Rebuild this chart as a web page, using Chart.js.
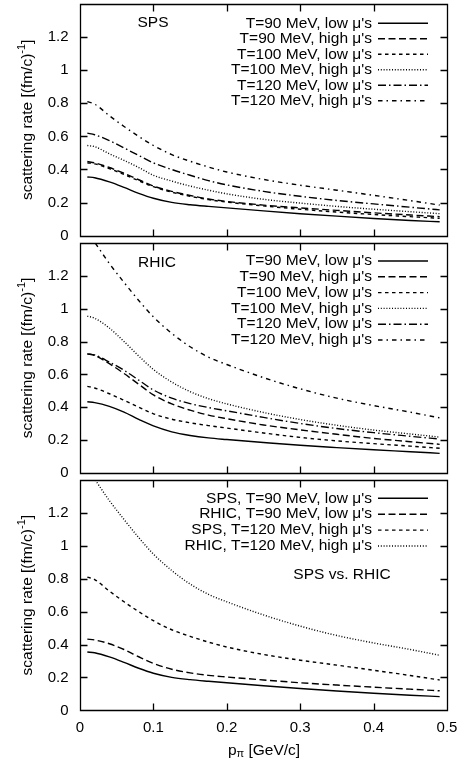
<!DOCTYPE html>
<html>
<head>
<meta charset="utf-8">
<script src="https://cdn.jsdelivr.net/npm/chart.js@4.4.1/dist/chart.umd.min.js"></script>
<style>
  html, body { margin: 0; padding: 0; background: #fff; }
  #wrap { position: relative; width: 466px; height: 764px; }
  canvas { position: absolute; left: 0; }
</style>
</head>
<body>
<div id="wrap">
  <canvas id="c1" width="466" height="240" style="top:0px"></canvas>
  <canvas id="c2" width="466" height="238" style="top:240px"></canvas>
  <canvas id="c3" width="466" height="286" style="top:478px"></canvas>
</div>
<script>
// pion momentum (GeV/c)
const px = [0.01, 0.02, 0.04, 0.06, 0.08, 0.1, 0.125, 0.15, 0.175, 0.2, 0.25, 0.3, 0.35, 0.4, 0.45, 0.49];

// SPS scattering rates
const spsT90Low   = [0.355, 0.350, 0.325, 0.292, 0.256, 0.226, 0.201, 0.187, 0.177, 0.168, 0.150, 0.133, 0.118, 0.104, 0.092, 0.084];
const spsT90High  = [0.448, 0.440, 0.412, 0.377, 0.338, 0.300, 0.268, 0.243, 0.222, 0.207, 0.185, 0.168, 0.153, 0.138, 0.125, 0.115];
const spsT100Low  = [0.440, 0.434, 0.405, 0.370, 0.332, 0.296, 0.263, 0.238, 0.218, 0.203, 0.180, 0.160, 0.143, 0.128, 0.115, 0.105];
const spsT100High = [0.545, 0.538, 0.495, 0.455, 0.412, 0.365, 0.330, 0.300, 0.275, 0.253, 0.220, 0.197, 0.177, 0.160, 0.145, 0.133];
const spsT120Low  = [0.620, 0.610, 0.575, 0.530, 0.485, 0.440, 0.400, 0.365, 0.333, 0.307, 0.268, 0.238, 0.213, 0.192, 0.172, 0.156];
const spsT120High = [0.810, 0.795, 0.725, 0.660, 0.600, 0.545, 0.490, 0.450, 0.415, 0.385, 0.340, 0.305, 0.275, 0.244, 0.212, 0.185];

// RHIC scattering rates
const rhicT90Low   = [0.433, 0.428, 0.405, 0.370, 0.326, 0.286, 0.250, 0.228, 0.213, 0.203, 0.185, 0.168, 0.154, 0.141, 0.129, 0.119];
const rhicT90High  = [0.725, 0.715, 0.665, 0.605, 0.540, 0.475, 0.420, 0.382, 0.352, 0.330, 0.292, 0.262, 0.235, 0.210, 0.190, 0.174];
const rhicT100Low  = [0.527, 0.517, 0.482, 0.442, 0.400, 0.360, 0.327, 0.305, 0.288, 0.273, 0.243, 0.216, 0.195, 0.178, 0.163, 0.150];
const rhicT100High = [0.955, 0.942, 0.882, 0.800, 0.712, 0.630, 0.553, 0.495, 0.452, 0.420, 0.368, 0.325, 0.290, 0.261, 0.237, 0.218];
const rhicT120Low  = [0.725, 0.718, 0.675, 0.625, 0.565, 0.505, 0.455, 0.422, 0.398, 0.378, 0.338, 0.301, 0.270, 0.245, 0.223, 0.206];
const rhicT120High = [1.470, 1.405, 1.275, 1.160, 1.050, 0.950, 0.850, 0.768, 0.705, 0.660, 0.580, 0.512, 0.455, 0.410, 0.370, 0.335];

const tempLabels = ["T=90 MeV, low \u03bc's", "T=90 MeV, high \u03bc's", "T=100 MeV, low \u03bc's",
                    "T=100 MeV, high \u03bc's", "T=120 MeV, low \u03bc's", "T=120 MeV, high \u03bc's"];
const cmpLabels = ["SPS, T=90 MeV, low \u03bc's", "RHIC, T=90 MeV, low \u03bc's",
                   "SPS, T=120 MeV, high \u03bc's", "RHIC, T=120 MeV, high \u03bc's"];
const xTicks = [0, 0.1, 0.2, 0.3, 0.4, 0.5];
const yTicks = [0, 0.2, 0.4, 0.6, 0.8, 1.0, 1.2];

const FAMILY = '"Liberation Sans", Arial, sans-serif';
const F_TEXT = "15.5px " + FAMILY;
const F_TICK = "15px " + FAMILY;
const F_SMALL = "11px " + FAMILY;
Chart.defaults.font.family = FAMILY;
Chart.defaults.color = "#000";

// gnuplot-like dash types
const DASH = [[], [7, 3.5], [3.5, 3.5], [1, 1.8], [8, 3, 1.5, 3], [4.5, 4, 1.5, 4]];

function mkSet(label, arr, dashIdx) {
    return {
        label: label,
        data: px.map((x, i) => ({ x: x, y: arr[i] })),
        borderColor: "#000",
        borderWidth: 1.4,
        borderDash: DASH[dashIdx],
        pointRadius: 0,
        fill: false,
        cubicInterpolationMode: "monotone"
    };
}

function fmt(v) { return String(Math.round(v * 10) / 10); }

function drawYTitle(ctx, cx, cy) {
    ctx.save();
    ctx.translate(cx, cy);
    ctx.rotate(-Math.PI / 2);
    ctx.fillStyle = "#000";
    ctx.textBaseline = "middle";
    ctx.textAlign = "left";
    const main = "scattering rate [(fm/c)", sup = "-1", end = "]";
    ctx.font = F_TEXT;
    const w1 = ctx.measureText(main).width, w3 = ctx.measureText(end).width;
    ctx.font = F_SMALL;
    const w2 = ctx.measureText(sup).width;
    let x = -(w1 + w2 + w3) / 2;
    ctx.font = F_TEXT;
    ctx.fillText(main, x, 0); x += w1;
    ctx.font = F_SMALL;
    ctx.fillText(sup, x, -6); x += w2;
    ctx.font = F_TEXT;
    ctx.fillText(end, x, 0);
    ctx.restore();
}

const panelPlugin = {
    id: "panel",
    afterDraw(chart, args, opts) {
        const ctx = chart.ctx;
        const a = chart.chartArea;
        const xs = chart.scales.x, ys = chart.scales.y;
        const L = Math.round(a.left) + 0.5, R = Math.round(a.right) + 0.5;
        const T = Math.round(a.top) + 0.5, B = Math.round(a.bottom) + 0.5;
        ctx.save();
        ctx.strokeStyle = "#000";
        ctx.lineWidth = 1.3;
        ctx.setLineDash([]);
        // frame and inward ticks on all sides
        ctx.beginPath();
        ctx.moveTo(L, T); ctx.lineTo(R, T); ctx.lineTo(R, B); ctx.lineTo(L, B); ctx.closePath();
        xTicks.forEach(v => {
            const p = Math.round(xs.getPixelForValue(v)) + 0.5;
            ctx.moveTo(p, B); ctx.lineTo(p, B - 7);
            ctx.moveTo(p, T); ctx.lineTo(p, T + 7);
        });
        yTicks.forEach(v => {
            const p = Math.round(ys.getPixelForValue(v)) + 0.5;
            ctx.moveTo(L, p); ctx.lineTo(L + 7, p);
            ctx.moveTo(R, p); ctx.lineTo(R - 7, p);
        });
        ctx.stroke();

        ctx.fillStyle = "#000";
        ctx.textBaseline = "middle";

        // y tick labels
        ctx.font = F_TICK;
        ctx.textAlign = "right";
        yTicks.forEach(v => ctx.fillText(fmt(v), 68.5, ys.getPixelForValue(v)));

        // key
        ctx.font = F_TEXT;
        chart.data.datasets.forEach((ds, i) => {
            const y = a.top + opts.keyTop + i * opts.keyStep;
            ctx.fillText(ds.label, 372, y);
            ctx.beginPath();
            ctx.setLineDash(ds.borderDash || []);
            ctx.lineWidth = ds.borderWidth;
            ctx.moveTo(378, y); ctx.lineTo(428, y);
            ctx.stroke();
        });
        ctx.setLineDash([]);

        // panel label
        ctx.textAlign = "center";
        ctx.fillText(opts.tag, opts.tagX, opts.tagY);

        drawYTitle(ctx, 28, (a.top + a.bottom) / 2);

        if (opts.xTitle) {
            ctx.font = F_TICK;
            ctx.textAlign = "center";
            xTicks.forEach(v => ctx.fillText(fmt(v), xs.getPixelForValue(v), a.bottom + 17));
            const main = "p", sub = "\u03c0", rest = " [GeV/c]";
            ctx.textAlign = "left";
            ctx.font = F_TEXT;
            const w1 = ctx.measureText(main).width, w3 = ctx.measureText(rest).width;
            ctx.font = F_SMALL;
            const w2 = ctx.measureText(sub).width;
            let x = 264 - (w1 + w2 + w3) / 2;
            const y = a.bottom + 40;
            ctx.font = F_TEXT;
            ctx.fillText(main, x, y); x += w1;
            ctx.font = F_SMALL;
            ctx.fillText(sub, x, y + 4); x += w2;
            ctx.font = F_TEXT;
            ctx.fillText(rest, x, y);
        }
        ctx.restore();
    }
};

function makeChart(id, datasets, cfg) {
    return new Chart(document.getElementById(id), {
        type: "line",
        data: { datasets: datasets },
        plugins: [panelPlugin],
        options: {
            responsive: false,
            animation: false,
            devicePixelRatio: 1,
            layout: { padding: { left: 80, right: 19, top: cfg.top, bottom: cfg.bottom } },
            plugins: {
                legend: { display: false },
                tooltip: { enabled: false },
                panel: cfg.panel
            },
            scales: {
                x: { type: "linear", min: 0, max: 0.5, display: false },
                y: { type: "linear", min: 0, max: 1.4, display: false }
            }
        }
    });
}

makeChart("c1", [
    mkSet(tempLabels[0], spsT90Low, 0),
    mkSet(tempLabels[1], spsT90High, 1),
    mkSet(tempLabels[2], spsT100Low, 2),
    mkSet(tempLabels[3], spsT100High, 3),
    mkSet(tempLabels[4], spsT120Low, 4),
    mkSet(tempLabels[5], spsT120High, 5)
], { top: 4, bottom: 4.3,
     panel: { keyTop: 19.3, keyStep: 15.5, tag: "SPS", tagX: 153, tagY: 23 } });

makeChart("c2", [
    mkSet(tempLabels[0], rhicT90Low, 0),
    mkSet(tempLabels[1], rhicT90High, 1),
    mkSet(tempLabels[2], rhicT100Low, 2),
    mkSet(tempLabels[3], rhicT100High, 3),
    mkSet(tempLabels[4], rhicT120Low, 4),
    mkSet(tempLabels[5], rhicT120High, 5)
], { top: 3, bottom: 5.1,
     panel: { keyTop: 18, keyStep: 15.8, tag: "RHIC", tagX: 157, tagY: 23 } });

makeChart("c3", [
    mkSet(cmpLabels[0], spsT90Low, 0),
    mkSet(cmpLabels[1], rhicT90Low, 1),
    mkSet(cmpLabels[2], spsT120High, 2),
    mkSet(cmpLabels[3], rhicT120High, 3)
], { top: 2, bottom: 53.6,
     panel: { keyTop: 18.3, keyStep: 15.9, tag: "SPS vs. RHIC", tagX: 342, tagY: 97, xTitle: true } });
</script>
</body>
</html>
